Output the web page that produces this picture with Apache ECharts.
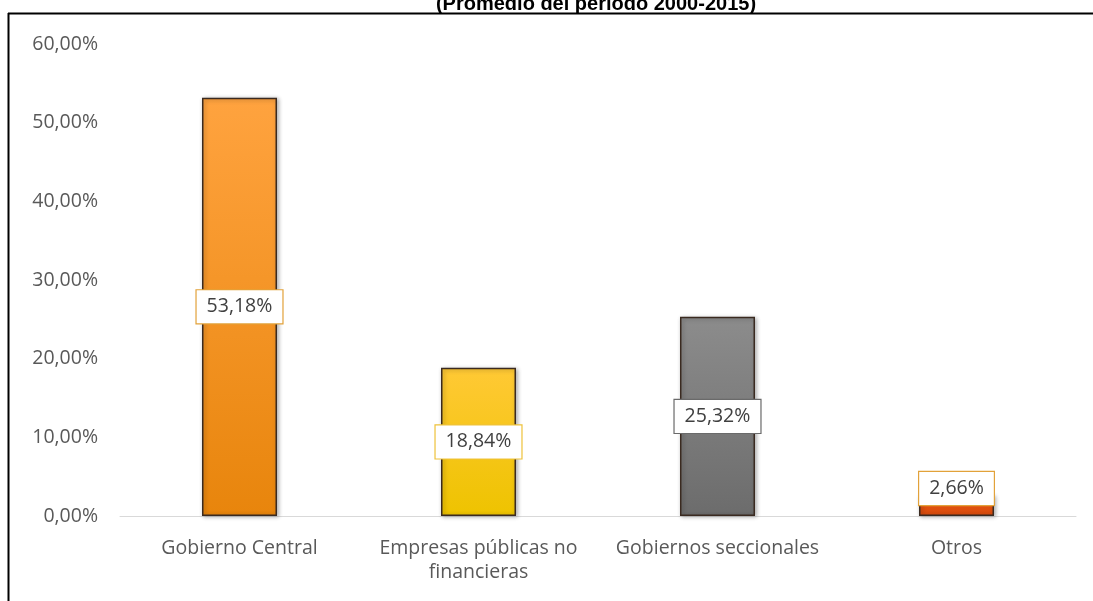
<!DOCTYPE html>
<html>
<head>
<meta charset="utf-8">
<script src="https://cdn.jsdelivr.net/npm/echarts@6/dist/echarts.min.js"></script>
<style>
  html, body { margin: 0; padding: 0; background: #ffffff; }
  #chart { width: 1093px; height: 601px; }
</style>
</head>
<body>
<div id="chart"></div>
<script>
// Participación por sector (promedio 2000-2015), en porcentaje
const categories = ['Gobierno Central', 'Empresas públicas no\nfinancieras', 'Gobiernos seccionales', 'Otros'];
const values = [53.18, 18.84, 25.32, 2.66];
const yTicks = { min: 0, max: 60, interval: 10 };

const fmt = v => v.toFixed(2).replace('.', ',') + '%';

// Per-bar appearance: vertical gradient, label box border, label placement
const looks = [
  { top: '#ffa33f', bottom: '#e8850c', border: '#e2a23a', offset: [0, 0] },
  { top: '#ffc935', bottom: '#eec300', border: '#eec23a', offset: [0, 0] },
  { top: '#8c8c8c', bottom: '#6c6c6c', border: '#6a6a6a', offset: [0, 0] },
  { top: '#e85a14', bottom: '#d84a0c', border: '#e2a23a', offset: [0, -17] }
];

const seriesData = values.map((v, i) => ({
  value: v,
  itemStyle: {
    color: new echarts.graphic.LinearGradient(0, 0, 0, 1, [
      { offset: 0, color: looks[i].top },
      { offset: 1, color: looks[i].bottom }
    ])
  },
  label: { borderColor: looks[i].border, offset: looks[i].offset }
}));

const chart = echarts.init(document.getElementById('chart'));
chart.setOption({
  backgroundColor: '#ffffff',
  animation: false,
  title: {
    text: '(Promedio del período 2000-2015)',
    left: 591,
    textAlign: 'center',
    top: -11,
    textStyle: { fontFamily: 'Liberation Sans', fontWeight: 'bold', fontSize: 20, color: '#000000' }
  },
  graphic: [
    { type: 'line', shape: { x1: 8.5, y1: 13, x2: 8.5, y2: 601 }, style: { stroke: '#000', lineWidth: 2 } },
    { type: 'line', shape: { x1: 8, y1: 13.5, x2: 1093, y2: 13.5 }, style: { stroke: '#000', lineWidth: 2 } }
  ],
  grid: { left: 120, right: 17, top: 44, bottom: 85 },
  xAxis: {
    type: 'category',
    data: categories,
    axisLine: { lineStyle: { color: '#d9d9d9', width: 1 } },
    axisTick: { show: false },
    axisLabel: {
      interval: 0,
      margin: 20,
      fontFamily: 'Open Sans',
      fontSize: 19.5,
      lineHeight: 24,
      color: '#595959'
    }
  },
  yAxis: {
    type: 'value',
    min: yTicks.min,
    max: yTicks.max,
    interval: yTicks.interval,
    splitLine: { show: false },
    axisLine: { show: false },
    axisTick: { show: false },
    axisLabel: {
      margin: 22,
      fontFamily: 'Open Sans',
      fontSize: 19.5,
      color: '#595959',
      formatter: v => v.toFixed(2).replace('.', ',') + '%'
    }
  },
  series: [{
    type: 'bar',
    data: seriesData,
    barWidth: 75,
    itemStyle: {
      borderColor: '#3a2a20',
      borderWidth: 1.5,
      shadowColor: 'rgba(0,0,0,0.3)',
      shadowBlur: 4,
      shadowOffsetX: 1.5,
      shadowOffsetY: 1
    },
    label: {
      show: true,
      position: 'inside',
      formatter: p => fmt(p.value),
      fontFamily: 'Open Sans',
      fontSize: 19.5,
      color: '#404040',
      backgroundColor: '#ffffff',
      borderWidth: 1.2,
      padding: [7, 10, 6, 10]
    }
  }]
});
</script>
</body>
</html>
